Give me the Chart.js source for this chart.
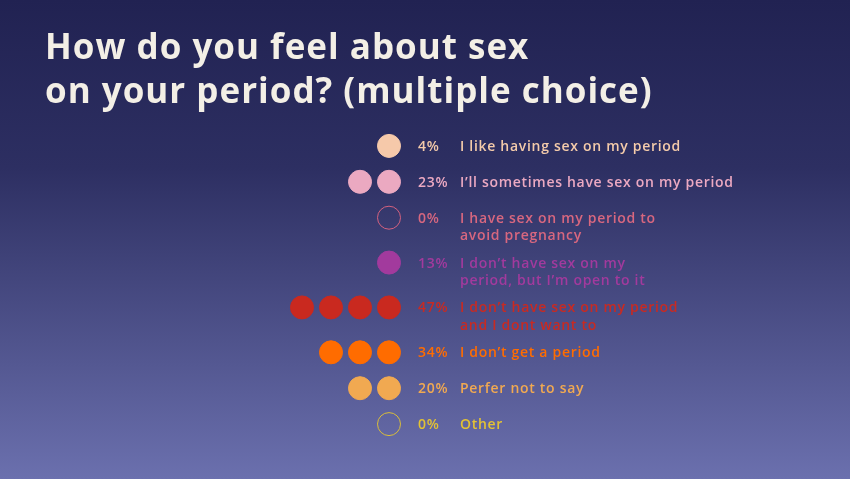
<!DOCTYPE html>
<html>
<head>
<meta charset="utf-8">
<script src="https://cdn.jsdelivr.net/npm/chart.js@4.4.1/dist/chart.umd.min.js"></script>
<style>
html,body{margin:0;padding:0;background:#21224f;}
canvas{display:block;}
</style>
</head>
<body>
<canvas id="c" width="850" height="479"></canvas>
<script>
// ---- data ----
const titleLines = ["How do you feel about sex", "on your period? (multiple choice)"];
const categories = [
  "I like having sex on my period",
  "I\u2019ll sometimes have sex on my period",
  "I have sex on my period to\navoid pregnancy",
  "I don\u2019t have sex on my\nperiod, but I\u2019m open to it",
  "I don\u2019t have sex on my period\nand I dont want to",
  "I don\u2019t get a period",
  "Perfer not to say",
  "Other"
];
const percents = [4, 23, 0, 13, 47, 34, 20, 0];
const dotCounts = [1, 2, 0, 1, 4, 3, 2, 0];

// ---- styles ----
const palette = ["#f6c9aa", "#eba9c1", "#d4617f", "#a23a9d", "#c9291f", "#ff6c00", "#f1a951", "#d9bd3a"];
const textColors = ["#f4cbaa", "#eca9c2", "#d8677f", "#a23a9d", "#c92a22", "#ff6c00", "#f1a951", "#e3c233"];

// row positions derived from label line counts
const rowPos = [];
let acc = 0;
categories.forEach((c, i) => {
  rowPos.push(acc);
  acc += 1 + 0.25 * (c.split("\n").length - 1);
});

const points = [], bg = [], border = [];
categories.forEach((c, i) => {
  const n = Math.max(dotCounts[i], 1);
  for (let j = 0; j < n; j++) {
    points.push({x: -j, y: rowPos[i]});
    if (dotCounts[i] === 0) { bg.push("rgba(0,0,0,0)"); border.push(palette[i]); }
    else { bg.push(palette[i]); border.push(palette[i]); }
  }
});

const decor = {
  id: "decor",
  beforeDraw(chart) {
    const ctx = chart.ctx;
    const g = ctx.createLinearGradient(0, 0, 0, chart.height);
    g.addColorStop(0, "#212252");
    g.addColorStop(0.35, "#2d2f62");
    g.addColorStop(1, "#6b70ae");
    ctx.save();
    ctx.fillStyle = g;
    ctx.fillRect(0, 0, chart.width, chart.height);
    ctx.fillStyle = "#f3efe6";
    ctx.font = "700 35px 'Open Sans'";
    ctx.letterSpacing = "1px";
    ctx.textBaseline = "alphabetic";
    ctx.fillText(titleLines[0], 45, 59);
    ctx.fillText(titleLines[1], 45, 103);
    ctx.restore();
  },
  afterDatasetsDraw(chart) {
    const ctx = chart.ctx;
    const xs = chart.scales.x, ys = chart.scales.y;
    const x0 = xs.getPixelForValue(0);
    ctx.save();
    ctx.font = "600 14px 'Open Sans'";
    ctx.letterSpacing = "0.7px";
    ctx.textBaseline = "middle";
    ctx.textAlign = "left";
    categories.forEach((c, i) => {
      const y = ys.getPixelForValue(rowPos[i]);
      ctx.fillStyle = textColors[i];
      ctx.fillText(percents[i] + "%", x0 + 29, y + 1);
      c.split("\n").forEach((line, k) => {
        ctx.fillText(line, x0 + 71, y + 1 + k * 17.5);
      });
    });
    ctx.restore();
  }
};

new Chart(document.getElementById("c"), {
  type: "scatter",
  data: {
    datasets: [{
      data: points,
      pointRadius: 11.5,
      pointHoverRadius: 11.5,
      pointBackgroundColor: bg,
      pointBorderColor: border,
      pointBorderWidth: 1,
      clip: false
    }]
  },
  options: {
    responsive: false,
    animation: false,
    devicePixelRatio: 1,
    layout: {padding: {left: 273, right: 432, top: 110, bottom: 19}},
    plugins: {legend: {display: false}, tooltip: {enabled: false}, title: {display: false}},
    scales: {
      x: {type: "linear", min: -4, max: 1, display: false},
      y: {type: "linear", min: -1, max: 8.75, reverse: true, display: false}
    }
  },
  plugins: [decor]
});
</script>
</body>
</html>
